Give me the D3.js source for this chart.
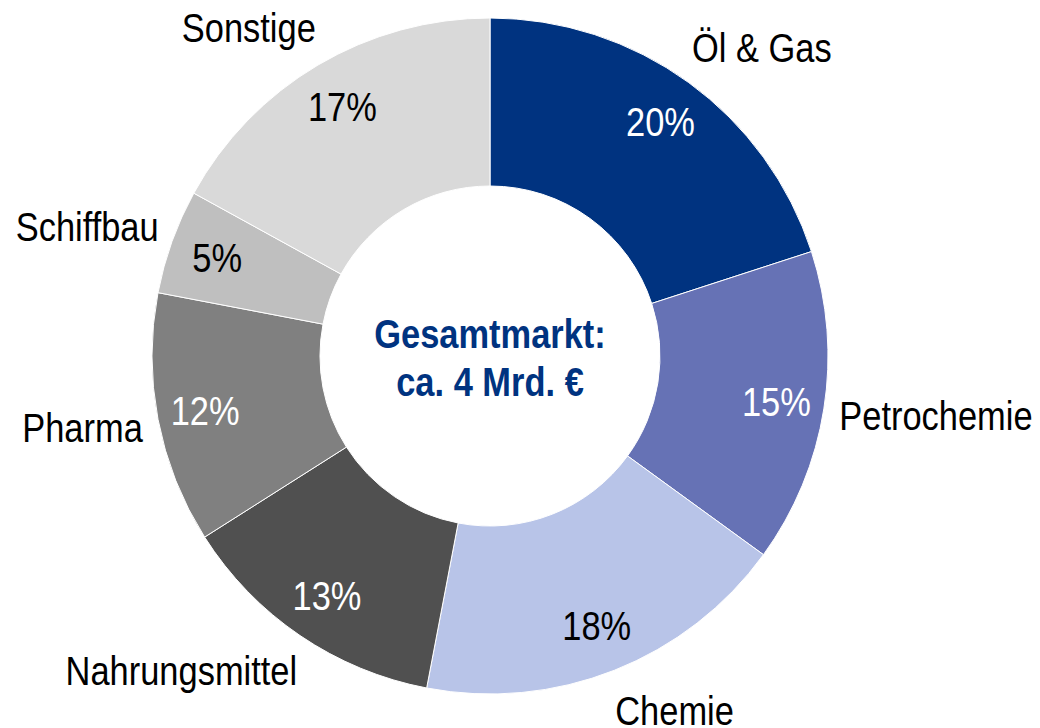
<!DOCTYPE html>
<html><head><meta charset="utf-8">
<script src="https://cdn.jsdelivr.net/npm/d3@7"></script>
<style>
html,body{margin:0;padding:0;background:#fff;}
svg{display:block;}
text{font-family:"Liberation Sans",Arial,sans-serif;}
</style></head>
<body>
<svg id="chart" width="1040" height="728"></svg>
<script>
const categories = ["Öl & Gas","Petrochemie","Chemie","Nahrungsmittel","Pharma","Schiffbau","Sonstige"];
const shares = [20,15,18,13,12,5,17];
const sliceColors = ["#003380","#6672B5","#B8C4E8","#505050","#808080","#BFBFBF","#D9D9D9"];
const valueColors = ["#fff","#fff","#000","#fff","#fff","#000","#000"];
const centerLines = ["Gesamtmarkt:","ca. 4 Mrd. €"];

const W=1040,H=728, cx=490, cy=356, Ro=338, Ri=170;
const NARROW=0.84, fs=41;
const svg=d3.select("#chart");
const g=svg.append("g").attr("transform",`translate(${cx},${cy})`);
const data=categories.map((c,i)=>({cat:c,v:shares[i],col:sliceColors[i],tc:valueColors[i]}));
const pie=d3.pie().value(d=>d.v).sort(null);
const arcs=pie(data);
const arc=d3.arc().innerRadius(Ri).outerRadius(Ro);
g.selectAll("path.s").data(arcs).join("path").attr("class","s")
 .attr("d",arc).attr("fill",d=>d.data.col).attr("stroke","#fff").attr("stroke-width",1);

function label(parent,x,y,txt,anchor,color,bold){
  const gg=parent.append("g").attr("transform",`translate(${x},${y}) scale(${NARROW},1)`);
  gg.append("text").attr("text-anchor",anchor).attr("dy","0.35em")
    .attr("font-size",fs).attr("fill",color).attr("font-weight",bold?"bold":"normal").text(txt);
}

const labArc=d3.arc().innerRadius(290).outerRadius(290);
arcs.forEach(d=>{
  const c=labArc.centroid(d);
  label(g,c[0],c[1],d.data.v+"%","middle",d.data.tc,false);
  const a=(d.startAngle+d.endAngle)/2, s=Math.sin(a), co=Math.cos(a);
  const px=Ro*s, py=-Ro*co;
  const x=px+16*s*s*s, y=py-co*43;
  label(g,x,y,d.data.cat,s>=0?"start":"end","#000",false);
});

centerLines.forEach((t,i)=>label(g,0,-22+i*48,t,"middle","#003380",true));
</script>
</body></html>
